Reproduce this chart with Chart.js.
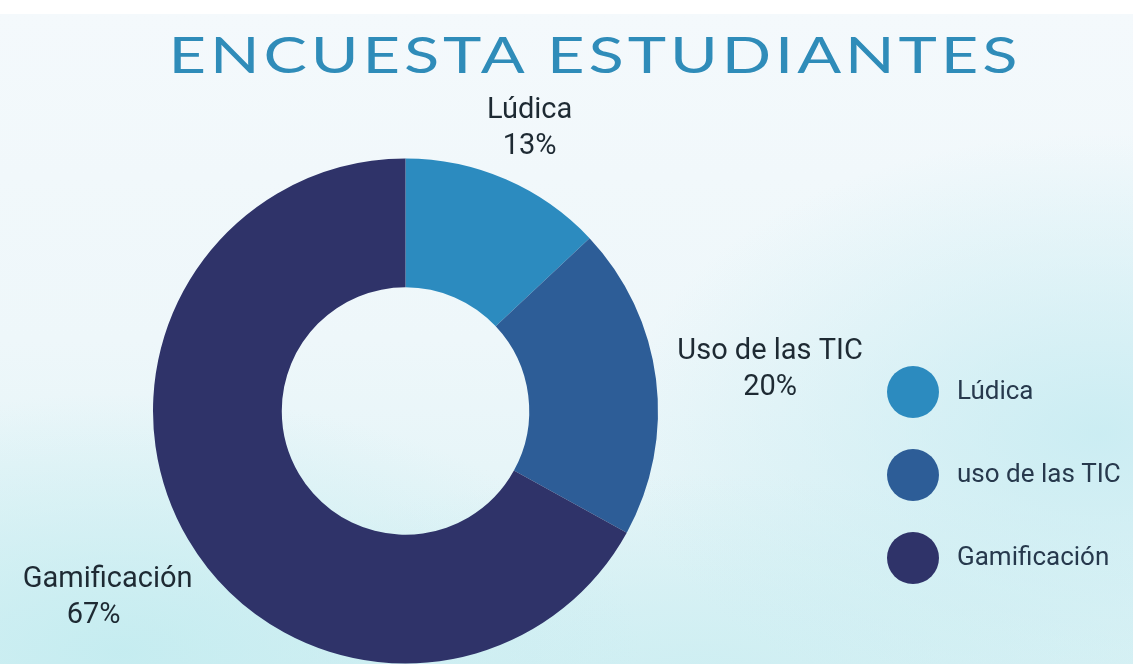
<!DOCTYPE html>
<html>
<head>
<meta charset="utf-8">
<script src="https://cdn.jsdelivr.net/npm/chart.js@4.4.0/dist/chart.umd.min.js"></script>
<style>
    html, body { margin: 0; padding: 0; }
    body {
        width: 1133px;
        height: 664px;
        overflow: hidden;
        background: #ffffff;
        position: relative;
        font-family: Roboto, sans-serif;
    }
    .wash {
        position: absolute;
        left: 0;
        top: 14px;
        width: 1133px;
        height: 650px;
        background:
            radial-gradient(ellipse 520px 260px at 120px 640px, rgba(196, 236, 240, 0.95), rgba(196, 236, 240, 0) 100%),
            radial-gradient(ellipse 480px 300px at 1100px 420px, rgba(200, 236, 242, 0.9), rgba(200, 236, 242, 0) 100%),
            radial-gradient(ellipse 600px 200px at 700px 660px, rgba(205, 238, 242, 0.9), rgba(205, 238, 242, 0) 100%),
            linear-gradient(180deg, #f4f9fc 0%, #eef7fa 50%, #dcf2f5 100%);
    }
    .title {
        position: absolute;
        left: 0;
        width: 1190px;
        top: 24px;
        text-align: center;
        font-family: Lato, sans-serif;
        font-size: 50px;
        letter-spacing: 3px;
        color: #2f8cb9;
        line-height: 60px;
        transform: scaleX(1.3);
        transform-origin: 595px 0;
    }
    #chartWrap {
        position: absolute;
        left: 0;
        top: 0;
        width: 1133px;
        height: 664px;
    }
</style>
</head>
<body>
<div class="wash"></div>
<div class="title">ENCUESTA ESTUDIANTES</div>
<div id="chartWrap"><canvas id="surveyChart"></canvas></div>

<script>
// Survey data
const categories = ['Lúdica', 'Uso de las TIC', 'Gamificación'];
const legendLabels = ['Lúdica', 'uso de las TIC', 'Gamificación'];
const percentages = [13, 20, 67];
const sliceColors = ['#2c8bbf', '#2d5d97', '#2f3369'];

// Outside labels: category name over percentage, placed along the slice mid-angle
const outsideLabels = {
    id: 'outsideLabels',
    afterDatasetsDraw(chart, args, opts) {
        const ctx = chart.ctx;
        const meta = chart.getDatasetMeta(0);
        ctx.save();
        ctx.font = opts.font;
        ctx.fillStyle = opts.color;
        ctx.textAlign = 'center';
        ctx.textBaseline = 'middle';
        meta.data.forEach((arc, i) => {
            const mid = (arc.startAngle + arc.endAngle) / 2;
            const dist = arc.outerRadius + opts.offsets[i];
            const x = arc.x + Math.cos(mid) * dist;
            const y = arc.y + Math.sin(mid) * dist + opts.dy;
            ctx.fillText(chart.data.labels[i], x + opts.dx1[i], y - opts.lineGap / 2);
            ctx.fillText(chart.data.datasets[0].data[i] + '%', x + opts.dx2[i], y + opts.lineGap / 2);
        });
        ctx.restore();
    }
};

// Legend with big round markers on the right
const dotLegend = {
    id: 'dotLegend',
    afterDraw(chart, args, opts) {
        const ctx = chart.ctx;
        const colors = chart.data.datasets[0].backgroundColor;
        ctx.save();
        ctx.font = opts.font;
        ctx.textBaseline = 'middle';
        ctx.textAlign = 'left';
        opts.labels.forEach((label, i) => {
            const y = opts.y + i * opts.spacing;
            ctx.beginPath();
            ctx.arc(opts.x, y, opts.radius, 0, Math.PI * 2);
            ctx.fillStyle = colors[i];
            ctx.fill();
            ctx.fillStyle = opts.color;
            ctx.fillText(label, opts.x + opts.radius + 18, y);
        });
        ctx.restore();
    }
};

const ctx = document.getElementById('surveyChart');
new Chart(ctx, {
    type: 'doughnut',
    data: {
        labels: categories,
        datasets: [{
            data: percentages,
            backgroundColor: sliceColors,
            borderWidth: 0
        }]
    },
    options: {
        responsive: true,
        maintainAspectRatio: false,
        animation: false,
        cutout: '49%',
        layout: {
            padding: { left: 153, right: 475, top: 158, bottom: 0 }
        },
        plugins: {
            legend: { display: false },
            tooltip: { enabled: false },
            outsideLabels: {
                font: '29px Roboto',
                color: '#1e2a33',
                lineGap: 36,
                dy: 5,
                offsets: [60, 115, 104],
                dx1: [0, 0, 9],
                dx2: [0, 0, -5]
            },
            dotLegend: {
                labels: legendLabels,
                x: 913,
                y: 392,
                spacing: 83,
                radius: 26,
                font: '26px Roboto',
                color: '#27394d'
            }
        }
    },
    plugins: [outsideLabels, dotLegend]
});
</script>
</body>
</html>
